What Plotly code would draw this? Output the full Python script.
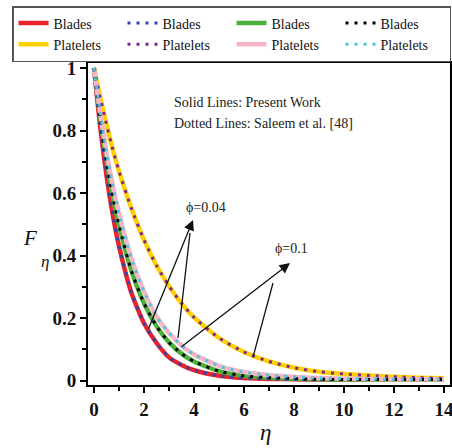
import plotly.graph_objects as go

eta = [0, 0.25, 0.5, 0.75, 1, 1.5, 2, 2.5, 3, 3.5, 4, 5, 6, 7, 8, 9, 10, 11, 12, 13, 14]

# Present work (solid lines)
blades_a = [1, 0.81, 0.655, 0.53, 0.43, 0.28, 0.183, 0.12, 0.074, 0.05, 0.033, 0.015, 0.008, 0.005, 0.004, 0.003, 0.003, 0.003, 0.003, 0.003, 0.003]
blades_b = [1, 0.84, 0.705, 0.59, 0.497, 0.35, 0.247, 0.174, 0.122, 0.086, 0.061, 0.03, 0.015, 0.009, 0.006, 0.004, 0.003, 0.003, 0.003, 0.003, 0.003]
platelets_b = [1, 0.855, 0.73, 0.625, 0.535, 0.39, 0.285, 0.205, 0.152, 0.112, 0.083, 0.047, 0.027, 0.017, 0.012, 0.008, 0.006, 0.005, 0.004, 0.004, 0.004]
platelets_a = [1, 0.905, 0.82, 0.74, 0.67, 0.55, 0.45, 0.368, 0.302, 0.247, 0.202, 0.136, 0.091, 0.061, 0.041, 0.028, 0.021, 0.016, 0.012, 0.009, 0.007]

# Saleem et al. [48] (dotted lines)
saleem_blades_a = blades_a
saleem_blades_b = blades_b
saleem_platelets_b = platelets_b
saleem_platelets_a = platelets_a

x_ticks = [0, 2, 4, 6, 8, 10, 12, 14]
y_ticks = [0, 0.2, 0.4, 0.6, 0.8, 1]
y_tick_labels = ["0", "0.2", "0.4", "0.6", "0.8", "1"]

series = [
    # name, y, color, dotted, legendrank
    ("Blades", blades_a, "#e8232b", False, 1),
    ("Platelets", platelets_a, "#ffd000", False, 5),
    ("Blades", blades_b, "#4cb03c", False, 3),
    ("Platelets", platelets_b, "#f6b6c6", False, 7),
    ("Blades", saleem_blades_a, "#2b45b5", True, 2),
    ("Platelets", saleem_platelets_a, "#7a2a8c", True, 6),
    ("Blades", saleem_blades_b, "#000000", True, 4),
    ("Platelets", saleem_platelets_b, "#4fc6e0", True, 8),
]

fig = go.Figure()
for name, y, color, dotted, rank in series:
    fig.add_trace(go.Scatter(
        x=eta, y=y, mode="lines", name=name, legendrank=rank,
        line=dict(color=color, width=3 if dotted else 4.5,
                  dash="3px,6px" if dotted else "solid", shape="spline", smoothing=0.6),
    ))

SERIF = "Liberation Serif, Times New Roman, serif"
tfont = dict(family=SERIF, size=14, color="#222")

arrows = [
    (3.96, 0.514, 2.16, 0.162),
    (7.84, 0.376, 3.44, 0.104),
]
for hx, hy, tx, ty in arrows:
    fig.add_annotation(x=hx, y=hy, ax=tx, ay=ty, xref="x", yref="y", axref="x", ayref="y",
                       text="", showarrow=True, arrowhead=2, arrowsize=1.6, arrowwidth=1.3,
                       arrowcolor="#111")
branches = [
    (3.84, 0.472, 3.36, 0.136),
    (7.16, 0.312, 6.36, 0.075),
]
for x0, y0, x1, y1 in branches:
    fig.add_shape(type="line", x0=x0, y0=y0, x1=x1, y1=y1, xref="x", yref="y",
                  line=dict(color="#111", width=1.3))

fig.add_annotation(x=4.48, y=0.555, text="ϕ=0.04", showarrow=False, font=tfont)
fig.add_annotation(x=7.9, y=0.424, text="ϕ=0.1", showarrow=False, font=tfont)
fig.add_annotation(x=3.1, y=0.891, text="Solid Lines: Present Work", showarrow=False,
                   xanchor="left", font=tfont)
fig.add_annotation(x=3.1, y=0.821, text="Dotted Lines: Saleem et al. [48]", showarrow=False,
                   xanchor="left", font=tfont)

# axis titles
fig.add_annotation(xref="paper", yref="paper", x=-0.160, y=0.4565, text="<i>F</i>", showarrow=False,
                   xanchor="center", yanchor="middle", font=dict(family=SERIF, size=21, color="#111"))
fig.add_annotation(xref="paper", yref="paper", x=-0.119, y=0.382, text="<i>η</i>", showarrow=False,
                   xanchor="center", yanchor="middle", font=dict(family=SERIF, size=17, color="#111"))
fig.add_annotation(xref="paper", yref="paper", x=0.489, y=-0.146, text="<i>η</i>", showarrow=False,
                   xanchor="center", yanchor="middle", font=dict(family=SERIF, size=23, color="#111"))

axis_common = dict(showgrid=False, zeroline=False, showline=True, linecolor="#000", linewidth=2,
                   mirror=True, ticks="outside", ticklen=6, tickwidth=2, tickcolor="#000",
                   ticklabeloverflow="allow",
                   tickfont=dict(family=SERIF, size=19, color="#111"))

fig.update_xaxes(range=[-0.24, 14.24], tickvals=x_ticks,
                 ticktext=["<b>%d</b>" % v for v in x_ticks],
                 minor=dict(tickvals=[1, 3, 5, 7, 9, 11, 13], ticklen=4, tickwidth=2, tickcolor="#000", ticks="outside"),
                 **axis_common)
fig.update_yaxes(range=[-0.0144, 1.016], tickvals=y_ticks,
                 ticktext=["<b>%s</b>" % t for t in y_tick_labels],
                 minor=dict(tickvals=[0.1, 0.3, 0.5, 0.7, 0.9], ticklen=4, tickwidth=2, tickcolor="#000", ticks="outside"),
                 **axis_common)

fig.update_layout(
    width=452, height=448,
    margin=dict(l=88, r=2, t=63, b=63, autoexpand=False),
    plot_bgcolor="white", paper_bgcolor="white",
    legend=dict(orientation="h", xref="paper", yref="paper", x=(12 - 88) / 362, y=1 + (63 - 6) / 322,
                xanchor="left", yanchor="top", entrywidth=64, entrywidthmode="pixels",
                bordercolor="#555", borderwidth=1.5, bgcolor="white",
                font=dict(family=SERIF, size=14, color="#111"),
                tracegroupgap=0, itemwidth=30),
    showlegend=True,
)

fig.write_html("out.html")
